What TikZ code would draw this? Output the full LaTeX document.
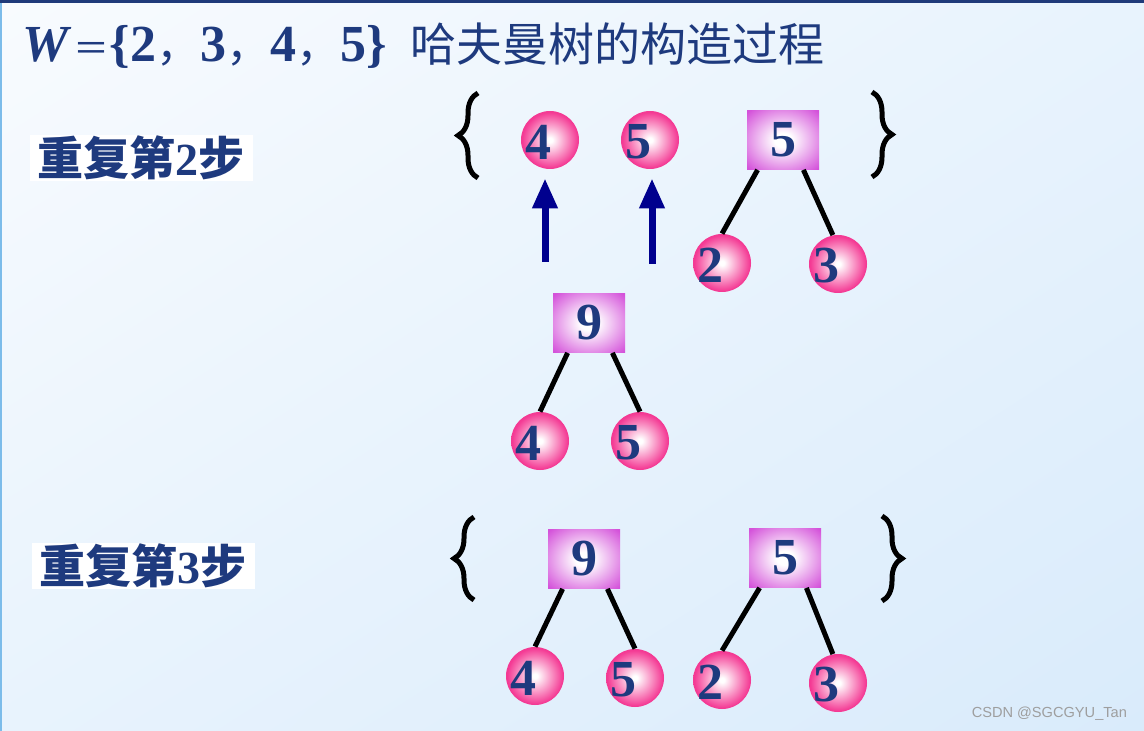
\documentclass[tikz,border=0pt]{standalone}
\usepackage{fontspec}
\setmainfont{Liberation Serif}
\newfontfamily\cjk{Noto Sans CJK SC}
\newfontfamily\wmfont{Liberation Sans}
\usetikzlibrary{arrows.meta, decorations.pathreplacing, shadings}

\definecolor{numblue}{HTML}{1E3A7E}
\definecolor{ballpink}{HTML}{F43A94}
\definecolor{boxviolet}{HTML}{D452DA}
\definecolor{arrowblue}{HTML}{00008E}
\definecolor{topblue}{HTML}{1F3A7A}
\definecolor{sideblue}{HTML}{7CBCEA}
\definecolor{bgA}{HTML}{F8FBFE}
\definecolor{bgB}{HTML}{E8F3FD}
\definecolor{bgC}{HTML}{D9EBFB}

\pgfdeclareradialshading{ballshade}{\pgfpointorigin}{color(0bp)=(white); color(2bp)=(white); color(24bp)=(ballpink); color(50bp)=(ballpink)}
\pgfdeclareradialshading{boxshade}{\pgfpointorigin}{color(0bp)=(white); color(6bp)=(white); color(34bp)=(boxviolet); color(50bp)=(boxviolet)}

\newcommand{\fw}[1]{{\cjk\mdseries\fontsize{22}{22}\selectfont #1}}

\begin{document}
\begin{tikzpicture}[x=0.5pt, y=-0.5pt,
    ball/.style={circle, minimum size=29pt, inner sep=0pt, shade, shading=ballshade},
    numlab/.style={font=\bfseries\fontsize{26}{26}\selectfont, text=numblue, xshift=-6pt, yshift=-1pt},
    knot/.style={rectangle, minimum width=36pt, minimum height=29.5pt, inner sep=0pt, shade, shading=boxshade,
        font=\bfseries\fontsize{26}{26}\selectfont, text=numblue},
    edge/.style={line width=2.5pt, black},
    lift/.style={line width=3.5pt, arrowblue, -{Triangle[width=12pt,length=15pt]}, shorten >=4.5pt},
    curly/.style={decorate, decoration={brace, amplitude=10pt}, line width=2.5pt},
    steplabel/.style={fill=white, text=numblue, font=\cjk\bfseries\fontsize{23}{23}\selectfont,
        minimum width=111.5pt, minimum height=23pt, inner sep=0pt}]
    \useasboundingbox (0,0) rectangle (1144,731);
    \shade[upper left=bgA, upper right=bgB, lower left=bgB, lower right=bgC] (0,0) rectangle (1144,731);
    \fill[topblue] (0,0) rectangle (1144,3);
    \fill[sideblue] (0,3) rectangle (2,731);

    % titulo
    \node[anchor=base west, inner sep=0pt, text=numblue, font=\bfseries\fontsize{26}{26}\selectfont] (title) at (22,62)
        {\textit{W}\kern1pt{\cjk\mdseries\fontsize{18}{18}\selectfont ＝}\{2\fw{，}3\fw{，}4\fw{，}5\}\hspace{12pt}{\cjk\mdseries\fontsize{23}{23}\selectfont 哈夫曼树的构造过程}};

    % passo 2
    \node[steplabel] (lab2) at (141,158) {重复第{\rmfamily\bfseries 2}步};
    \draw[curly] (478,178) -- (478,93);
    \draw[curly] (872,92) -- (872,177);
    \node[ball, label={[numlab]center:4}] (c4) at (550,140) {};
    \node[ball, label={[numlab]center:5}] (c5) at (650,140) {};
    \node[knot] (t5) at (783,140) {5};
    \node[ball, label={[numlab]center:2}] (c2) at (722,263) {};
    \node[ball, label={[numlab]center:3}] (c3) at (838,264) {};
    \draw[edge] ([xshift=5.5pt]t5.south west) -- (c2.north);
    \draw[edge] ([xshift=-8pt]t5.south east) -- (c3.100);

    \coordinate (a4) at (545,262);
    \coordinate (a5) at (652,264);
    \draw[lift] (a4) -- (a4 |- c4.south);
    \draw[lift] (a5) -- (a5 |- c5.south);

    \node[knot] (t9) at (589,323) {9};
    \node[ball, label={[numlab]center:4}] (d4) at (540,441) {};
    \node[ball, label={[numlab]center:5}] (d5) at (640,441) {};
    \draw[edge] ([xshift=7.5pt]t9.south west) -- (d4.north);
    \draw[edge] ([xshift=-6.5pt]t9.south east) -- (d5.north);

    % passo 3
    \node[steplabel] (lab3) at (143,566) {重复第{\rmfamily\bfseries 3}步};
    \draw[curly] (474,600) -- (474,517);
    \draw[curly] (882,516) -- (882,601);
    \node[knot] (u9) at (584,559) {9};
    \node[knot] (u5) at (785,558) {5};
    \node[ball, label={[numlab]center:4}] (e4) at (535,676) {};
    \node[ball, label={[numlab]center:5}] (e5) at (635,678) {};
    \node[ball, label={[numlab]center:2}] (e2) at (722,680) {};
    \node[ball, label={[numlab]center:3}] (e3) at (838,683) {};
    \draw[edge] ([xshift=7.5pt]u9.south west) -- (e4.north);
    \draw[edge] ([xshift=-6.5pt]u9.south east) -- (e5.north);
    \draw[edge] ([xshift=5.5pt]u5.south west) -- (e2.north);
    \draw[edge] ([xshift=-7.5pt]u5.south east) -- (e3.100);

    \node[anchor=east, text=black!38, font=\wmfont\fontsize{7.3}{7.3}\selectfont] (mark) at (1134,714) {CSDN @SGCGYU\_Tan};
\end{tikzpicture}
\end{document}
